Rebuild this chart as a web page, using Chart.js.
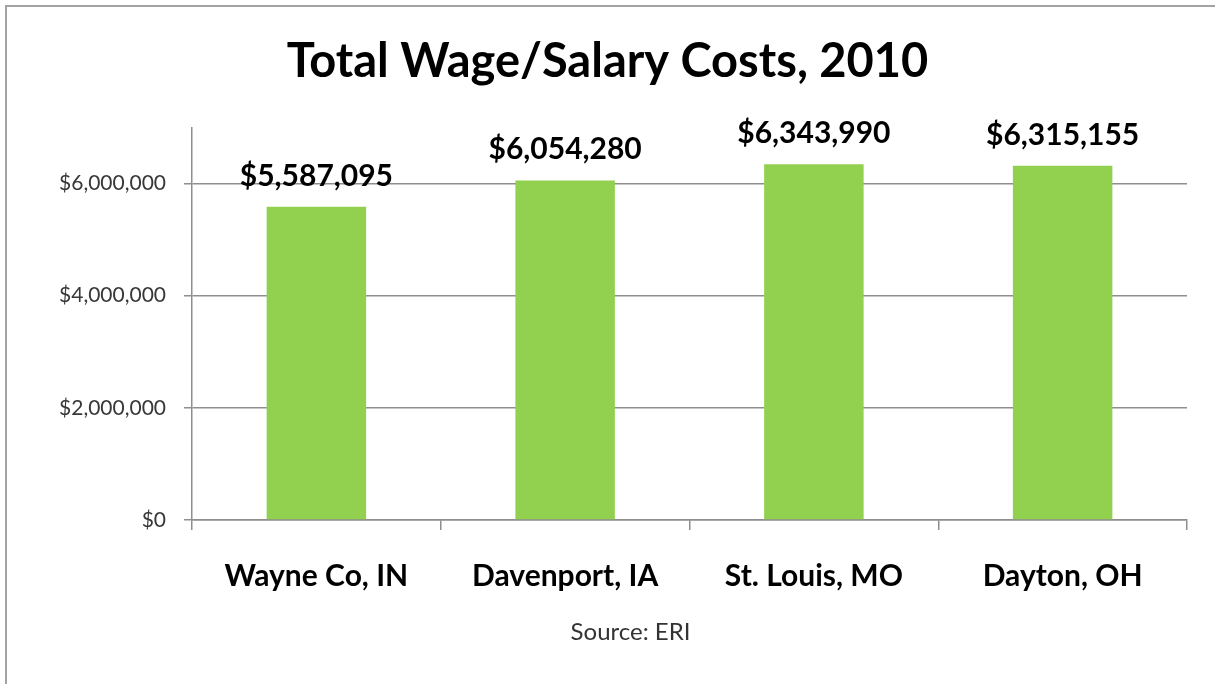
<!DOCTYPE html>
<html>
<head>
<meta charset="utf-8">
<script src="https://cdn.jsdelivr.net/npm/chart.js@4.4.1/dist/chart.umd.min.js"></script>
<style>
    html, body { margin: 0; padding: 0; background: #fff; overflow: hidden; }
    #wrap { position: relative; width: 1215px; height: 684px; }
    #frame { position: absolute; left: 5px; top: 5px; right: -10px; bottom: -10px; border: 2px solid #a3a3a3; }
    #wageChart { position: absolute; left: 0; top: 0; }
</style>
</head>
<body>
<div id="wrap">
    <div id="frame"></div>
    <canvas id="wageChart" width="1215" height="684"></canvas>
</div>
<script>
var cities = ['Wayne Co, IN', 'Davenport, IA', 'St. Louis, MO', 'Dayton, OH'];
var wageCosts = [5587095, 6054280, 6343990, 6315155];
var yTicks = [0, 2000000, 4000000, 6000000];
var chartTitle = 'Total Wage/Salary Costs, 2010';
var sourceNote = 'Source: ERI';

var fontFamily = 'Lato, "Open Sans", sans-serif';
var gridGray = '#8e8e8e';

function money(v) {
    return '$' + Number(v).toLocaleString('en-US');
}

// value labels above each bar
var barLabels = {
    id: 'barLabels',
    afterDatasetsDraw: function(chart) {
        var ctx = chart.ctx;
        var meta = chart.getDatasetMeta(0);
        ctx.save();
        ctx.font = 'bold 30px ' + fontFamily;
        ctx.fillStyle = '#000';
        ctx.textAlign = 'center';
        ctx.textBaseline = 'alphabetic';
        meta.data.forEach(function(bar, i) {
            ctx.fillText(money(wageCosts[i]), bar.x, bar.y - 21);
        });
        ctx.restore();
    }
};

// source line under the category labels
var sourceLine = {
    id: 'sourceLine',
    afterDraw: function(chart) {
        var ctx = chart.ctx;
        ctx.save();
        ctx.font = '24px ' + fontFamily;
        ctx.fillStyle = '#333';
        ctx.textAlign = 'center';
        ctx.textBaseline = 'middle';
        ctx.fillText(sourceNote, chart.width / 2 + 23, 632);
        ctx.restore();
    }
};

var ctx = document.getElementById('wageChart').getContext('2d');
var wageChart = new Chart(ctx, {
    type: 'bar',
    data: {
        labels: cities,
        datasets: [{
            label: 'Total Wage/Salary Costs',
            data: wageCosts,
            backgroundColor: '#92d050',
            borderWidth: 0,
            barPercentage: 0.4,
            categoryPercentage: 1.0
        }]
    },
    options: {
        responsive: false,
        animation: false,
        devicePixelRatio: 1,
        layout: { padding: 0 },
        plugins: {
            legend: { display: false },
            tooltip: { enabled: false },
            title: {
                display: true,
                text: chartTitle,
                color: '#000',
                font: { family: fontFamily, size: 47, weight: 'bold' },
                padding: { top: 34, bottom: 37 }
            }
        },
        scales: {
            x: {
                grid: {
                    drawOnChartArea: false,
                    drawTicks: true,
                    tickLength: 10,
                    color: gridGray,
                    lineWidth: 1.5
                },
                border: { display: true, color: gridGray, width: 1.5 },
                ticks: {
                    color: '#000',
                    padding: 28,
                    font: { family: fontFamily, size: 30, weight: 'bold' }
                },
                afterFit: function(scale) { scale.height = 164; }
            },
            y: {
                min: 0,
                max: 7000000,
                afterBuildTicks: function(scale) {
                    scale.ticks = yTicks.map(function(v) { return { value: v }; });
                },
                grid: {
                    color: gridGray,
                    lineWidth: 1.5,
                    drawTicks: true,
                    tickLength: 8
                },
                border: { display: true, color: gridGray, width: 1.5 },
                ticks: {
                    color: '#383838',
                    padding: 18,
                    font: { family: fontFamily, size: 21 },
                    callback: function(v) { return money(v); }
                },
                afterFit: function(scale) { scale.width = 192; }
            },
            yRight: {
                position: 'right',
                display: true,
                grid: { display: false, drawTicks: false },
                border: { display: false },
                ticks: { display: false },
                afterFit: function(scale) { scale.width = 28; }
            }
        }
    },
    plugins: [barLabels, sourceLine]
});
</script>
</body>
</html>
